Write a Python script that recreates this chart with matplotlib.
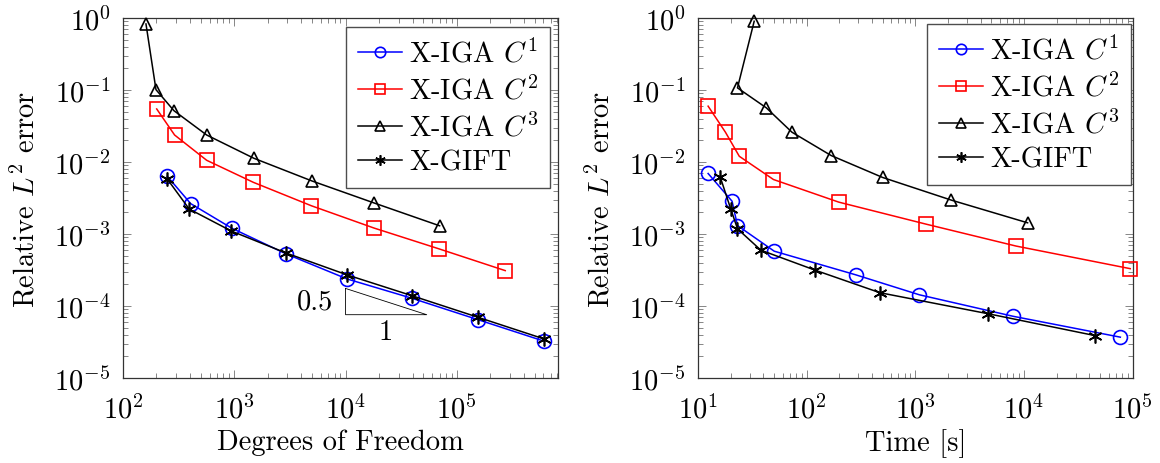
import matplotlib
matplotlib.use("Agg")
import matplotlib.pyplot as plt
from matplotlib.ticker import LogLocator, NullFormatter

# Convergence data: error vs. degrees of freedom
DOF_C1 = [250, 406, 953, 2914, 10350, 39500, 155000, 610000]
ERR_DOF_C1 = [6.33e-3, 2.64e-3, 1.20e-3, 5.3e-4, 2.37e-4, 1.28e-4, 6.45e-5, 3.24e-5]
DOF_C2 = [201, 291, 565, 1483, 4920, 18000, 69500, 272000]
ERR_DOF_C2 = [5.45e-2, 2.37e-2, 1.056e-2, 5.22e-3, 2.47e-3, 1.21e-3, 6.2e-4, 3.1e-4]
DOF_C3 = [161, 198, 287, 565, 1503, 4990, 18000, 70000]
ERR_DOF_C3 = [0.826, 0.101, 0.0516, 0.0237, 0.01125, 5.45e-3, 2.7e-3, 1.3e-3]
DOF_GIFT = [250, 394, 940, 2914, 10350, 39500, 155000, 610000]
ERR_DOF_GIFT = [5.8e-3, 2.22e-3, 1.1e-3, 5.45e-4, 2.7e-4, 1.39e-4, 6.97e-5, 3.48e-5]

# Error vs. wall-clock time
TIME_C1 = [12.4, 20.6, 23.1, 50.3, 283, 1091, 7930, 77100]
ERR_TIME_C1 = [6.92e-3, 2.85e-3, 1.31e-3, 5.77e-4, 2.71e-4, 1.43e-4, 7.2e-5, 3.69e-5]
TIME_C2 = [12.4, 17.9, 24.0, 49.5, 197.5, 1256, 8450, 95000]
ERR_TIME_C2 = [5.96e-2, 2.59e-2, 1.2e-2, 5.71e-3, 2.77e-3, 1.37e-3, 6.8e-4, 3.3e-4]
TIME_C3 = [32.9, 23.1, 42.5, 73.3, 168, 500, 2150, 10800]
ERR_TIME_C3 = [0.90, 0.107, 0.0566, 0.0259, 0.0123, 6.1e-3, 2.95e-3, 1.43e-3]
TIME_GIFT = [16.0, 20.0, 23.1, 37.9, 120, 472, 4690, 44700]
ERR_TIME_GIFT = [6.23e-3, 2.24e-3, 1.18e-3, 5.96e-4, 3.14e-4, 1.53e-4, 7.8e-5, 3.89e-5]

LABELS = [r"X-IGA $C^1$", r"X-IGA $C^2$", r"X-IGA $C^3$", "X-GIFT"]

# Reference slope triangle (rate 0.5 over one run)
SLOPE_X = [1e4, 5.36e4]
SLOPE_BASE = 7.57e-5
SLOPE_RATE = 0.5

FONT_SIZE = 20.5
ASTERISK = (6, 2, 0)
STYLES = [
    dict(color="#0000ff", marker="o", markersize=10),
    dict(color="#ff0000", marker="s", markersize=9.5),
    dict(color="black", marker="^", markersize=9),
    dict(color="black", marker=ASTERISK, markersize=10),
]

plt.rcParams.update({
    "font.family": "serif",
    "font.serif": ["cmr10"],
    "mathtext.fontset": "cm",
    "axes.formatter.use_mathtext": True,
    "font.size": FONT_SIZE,
})


def style_axes(ax, xlim):
    ax.set_xscale("log")
    ax.set_yscale("log")
    ax.set_xlim(*xlim)
    ax.set_ylim(1e-5, 1e0)
    for axis in (ax.xaxis, ax.yaxis):
        axis.set_major_locator(LogLocator(base=10, numticks=20))
        axis.set_minor_locator(LogLocator(base=10, subs=range(2, 10), numticks=100))
        axis.set_minor_formatter(NullFormatter())
    ax.tick_params(which="both", direction="in", top=True, right=True,
                   color="0.45", width=0.6)
    ax.tick_params(which="major", length=6, pad=9, labelsize=FONT_SIZE)
    ax.tick_params(axis="x", which="major", pad=12)
    ax.tick_params(which="minor", length=3.5)
    for spine in ax.spines.values():
        spine.set_color("0.2")
        spine.set_linewidth(0.9)
    ax.set_ylabel(r"Relative $L^2$ error")
    ax.yaxis.set_label_coords(-0.19, 0.5)
    ax.xaxis.set_label_coords(0.5, -0.14)


def draw_series(ax, series, anchor):
    for (xs, ys), style, label in zip(series, STYLES, LABELS):
        ax.plot(xs, ys, lw=1.1, mfc="none", mew=1.2, label=label,
                clip_on=False, zorder=3, **style)
    ax.legend(loc="upper right", bbox_to_anchor=anchor, fontsize=FONT_SIZE,
              handlelength=1.55, handletextpad=0.25, borderpad=0.42,
              labelspacing=0.28, borderaxespad=0, fancybox=False,
              framealpha=1, edgecolor="0.3", markerscale=0.75)


fig = plt.figure(figsize=(11.6, 4.64), dpi=100)
ax_dof = fig.add_axes([0.1060, 0.1832, 0.3750, 0.7759])
ax_time = fig.add_axes([0.6017, 0.1832, 0.3747, 0.7759])

style_axes(ax_dof, (1e2, 8.1e5))
draw_series(ax_dof, [(DOF_C1, ERR_DOF_C1), (DOF_C2, ERR_DOF_C2),
                     (DOF_C3, ERR_DOF_C3), (DOF_GIFT, ERR_DOF_GIFT)],
            (0.982, 0.975))
ax_dof.set_xlabel("Degrees of Freedom")

# slope triangle
slope_top = SLOPE_BASE * (SLOPE_X[1] / SLOPE_X[0]) ** SLOPE_RATE
ax_dof.plot([SLOPE_X[0], SLOPE_X[0], SLOPE_X[1], SLOPE_X[0]],
            [slope_top, SLOPE_BASE, SLOPE_BASE, slope_top],
            color="black", lw=0.6, zorder=2)
ax_dof.text(SLOPE_X[0] / 1.3, (slope_top * SLOPE_BASE) ** 0.5, "0.5",
            ha="right", va="center", fontsize=FONT_SIZE)
ax_dof.text((SLOPE_X[0] * SLOPE_X[1]) ** 0.5, SLOPE_BASE / 1.15, "1",
            ha="center", va="top", fontsize=FONT_SIZE)

style_axes(ax_time, (1e1, 1e5))
draw_series(ax_time, [(TIME_C1, ERR_TIME_C1), (TIME_C2, ERR_TIME_C2),
                      (TIME_C3, ERR_TIME_C3), (TIME_GIFT, ERR_TIME_GIFT)],
            (0.997, 0.983))
ax_time.set_xlabel("Time [s]")

fig.savefig("out.png", dpi=100)
